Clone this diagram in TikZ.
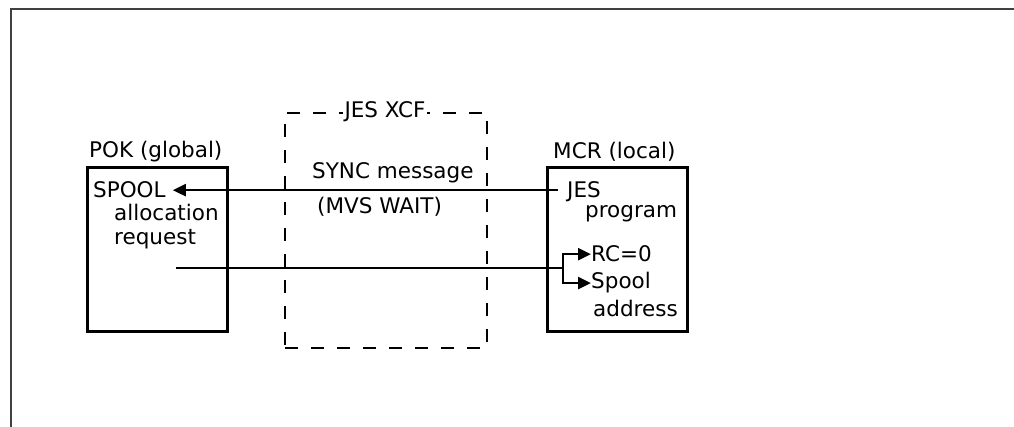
\documentclass[tikz,border=0pt]{standalone}
\usepackage{fontspec}
\setmainfont{DejaVu Sans}
\usetikzlibrary{arrows.meta}

\begin{document}
\begin{tikzpicture}[x=1pt, y=-1pt,
    txt/.style={inner sep=0pt, anchor=base west, font=\fontsize{21.5}{25}\selectfont},
    box/.style={draw, line width=3pt, minimum width=140pt, minimum height=164pt, inner sep=0pt},
    link/.style={line width=2.4pt},
    arr/.style={link, -{Triangle[length=13pt, width=12pt]}}]
    \useasboundingbox (0,0) rectangle (1014,427);

    % Frame
    \draw[line width=2.5pt, black!75] (1014,9) -- (11,9) -- (11,427);

    % JES XCF
    \node[draw, dashed, dash pattern=on 13pt off 13pt, line width=2.6pt, minimum width=202pt, minimum height=235pt, inner sep=0pt] (xcf) at (386,230.5) {};
    \node[txt, anchor=base, fill=white, inner xsep=2pt] (xcftitle) at (385,118) {JES XCF};
    \node[txt] (sync) at (312,179) {SYNC message};
    \node[txt] (mvswait) at (317,214) {(MVS WAIT)};

    % POK (global)
    \node[box] (pok) at (157,250) {};
    \node[txt] (poktitle) at (89,158) {POK (global)};
    \node[txt] (spool) at (93,198) {SPOOL};
    \node[txt] (alloc) at (114,221) {allocation};
    \node[txt] (request) at (114,245) {request};

    % MCR (local)
    \node[box] (mcr) at (617,250) {};
    \node[txt] (mcrtitle) at (553,159) {MCR (local)};
    \node[txt] (jes) at (567,198) {JES};
    \node[txt] (program) at (585,218) {program};
    \node[txt] (rc) at (591,262) {RC=0};
    \node[txt] (spooladdr) at (591,289) {Spool};
    \node[txt] (address) at (593,317) {address};

    % Arrows
    \draw[arr, shorten <=9pt, shorten >=7pt] (jes.west |- spool.east) -- (spool.east);
    \coordinate (reqout) at (176,268);
    \coordinate (fork) at (563,268);
    \draw[link] (reqout) -- (fork);
    \draw[arr] (fork) |- (rc.west);
    \draw[arr] (fork) |- (spooladdr.west);
\end{tikzpicture}
\end{document}
